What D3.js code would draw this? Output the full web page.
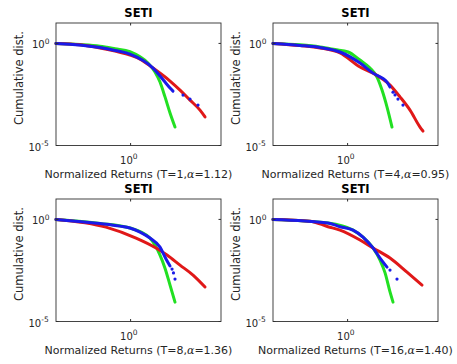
<!DOCTYPE html>
<html><head><meta charset="utf-8">
<script src="https://cdn.jsdelivr.net/npm/d3@7"></script>
<style>body{margin:0;background:#fff}svg{display:block}</style></head>
<body><svg id="c" width="457" height="364"></svg>
<script>
// ---- data ----
const panelTitles = ["SETI","SETI","SETI","SETI"];
const panelT = [1, 4, 8, 16];
const panelAlpha = ["1.12", "0.95", "1.36", "1.40"];
const xTicks = [1];
const yTicks = [1e-5, 1];

// Panel 1 (T=1)
const g1x = [0.01,0.044,0.151,0.382,0.96,1.79,2.92,4.51,6.14,8.36,11.4,15.5];
const g1y = [1.0,0.88,0.73,0.55,0.40,0.22,0.11,0.040,0.0128,0.0024,3.9e-4,8e-5];
const r1x = [0.01,0.044,0.151,0.382,0.96,1.79,3.99,11.4,21.1,39.1,72.6,98.9];
const r1y = [1.0,0.86,0.60,0.42,0.27,0.17,0.062,0.0144,0.0052,0.00168,5.4e-4,2.5e-4];
const b1x = [0.01,0.151,0.382,0.96,3.99,8.36,11.4,13.7];
const b1y = [1.0,0.63,0.45,0.30,0.062,0.0128,0.0065,0.0046];
const b1dx = [25.4,39.1,64.1];
const b1dy = [0.00296,0.00188,9.5e-4];

// Panel 2 (T=4)
const g2x = [0.01,0.053,0.182,0.459,1.03,2.15,3.99,6.14,8.36,11.4,15.5];
const g2y = [1.0,0.85,0.67,0.50,0.38,0.153,0.062,0.0225,0.0052,7.6e-4,8e-5];
const r2x = [0.01,0.053,0.182,0.625,2.15,4.80,13.7,25.4,47.1,87.3,105];
const r2y = [1.0,0.78,0.60,0.34,0.070,0.035,0.0091,0.0024,5.4e-4,8e-5,5.1e-5];
const b2x = [0.01,0.053,0.182,0.625,2.15,4.80,11.4,13.7];
const b2y = [1.0,0.80,0.63,0.38,0.109,0.035,0.0128,0.0073];
const b2dx = [16.5,18.7,22.4,30.5];
const b2dy = [0.0041,0.0030,0.00188,9.5e-4];

// Panel 3 (T=8)
const g3x = [0.01,0.151,0.96,3.31,4.51,6.14,8.36,11.4,15.5];
const g3y = [1,0.64,0.38,0.122,0.056,0.018,0.0041,6.1e-4,8.9e-5];
const r3x = [0.01,0.219,1.40,4.80,9.46,21.1,47.1,98.9];
const r3y = [1,0.42,0.122,0.040,0.018,0.0058,0.00188,4.9e-4];
const b3x = [0.01,0.151,0.52,0.96,1.79,3.31,6.14,8.89,11.4];
const b3y = [1,0.63,0.47,0.38,0.24,0.122,0.044,0.0115,0.0052];
const b3dx = [12.9,14.1,15.5];
const b3dy = [0.0037,0.0024,0.0012];

// Panel 4 (T=16)
const g4x = [0.01,0.298,1.40,2.59,4.80,7.40,10.1,13.7,16.5];
const g4y = [1,0.67,0.30,0.137,0.040,0.0102,0.0024,2.8e-4,8.9e-5];
const r4x = [0.01,0.098,0.298,0.625,2.15,4.80,13.7,39.1,98.9];
const r4y = [1,0.82,0.44,0.30,0.098,0.040,0.0128,0.0026,6.1e-4];
const b4x = [0.01,0.298,0.625,1.40,2.59,4.80,7.40,11.4];
const b4y = [1,0.67,0.44,0.30,0.137,0.040,0.0128,0.0046];
const b4dx = [13.7,21.1];
const b4dy = [0.0033,0.0012];

const gaussX = [g1x,g2x,g3x,g4x], gaussY = [g1y,g2y,g3y,g4y];
const fitX = [r1x,r2x,r3x,r4x], fitY = [r1y,r2y,r3y,r4y];
const empX = [b1x,b2x,b3x,b4x], empY = [b1y,b2y,b3y,b4y];
const tailX = [b1dx,b2dx,b3dx,b4dx], tailY = [b1dy,b2dy,b3dy,b4dy];

// ---- layout ----
const W = 165, H = 122.5;
const origins = [[56,23],[273,23],[56,199],[273,199]];
const FONT = "'DejaVu Sans', sans-serif";
const cGreen = "#22e022", cRed = "#e01818", cBlue = "#1a1ae8";

const x = d3.scaleLog().domain([0.01, 265]).range([0, W]);
const y = d3.scaleLog().domain([1e-5, 10]).range([H, 0]);
const line = d3.line().x(d => x(d[0])).y(d => y(d[1])).curve(d3.curveMonotoneX);

const svg = d3.select("#c");

origins.forEach((o, i) => {
  const g = svg.append("g").attr("transform", `translate(${o[0]},${o[1]})`);

  const series = [
    [gaussX[i], gaussY[i], cGreen],
    [fitX[i], fitY[i], cRed],
    [empX[i], empY[i], cBlue]
  ];
  series.forEach(([xs, ys, col]) => {
    g.append("path").datum(xs.map((v, k) => [v, ys[k]]))
      .attr("d", line).attr("fill", "none").attr("stroke", col)
      .attr("stroke-width", 3).attr("stroke-linecap", "round");
  });
  g.selectAll("circle.tail").data(tailX[i].map((v, k) => [v, tailY[i][k]]))
    .join("circle").attr("class", "tail")
    .attr("cx", d => x(d[0])).attr("cy", d => y(d[1])).attr("r", 1.6).attr("fill", cBlue);

  // frame
  g.append("rect").attr("width", W).attr("height", H)
    .attr("fill", "none").attr("stroke", "#303030").attr("stroke-width", 0.9);

  // ticks (inward, mirrored)
  const tl = 2.5;
  xTicks.forEach(t => {
    g.append("line").attr("x1", x(t)).attr("x2", x(t)).attr("y1", H).attr("y2", H - tl).attr("stroke", "#303030");
    g.append("line").attr("x1", x(t)).attr("x2", x(t)).attr("y1", 0).attr("y2", tl).attr("stroke", "#303030");
    const tx = g.append("text").attr("x", x(t) - 10.5).attr("y", H + 18)
      .attr("font-family", FONT).attr("font-size", 10).attr("fill", "#262626");
    tx.append("tspan").text("10");
    tx.append("tspan").attr("dy", -4.5).attr("font-size", 7.5).text(String(Math.round(Math.log10(t))));
  });
  yTicks.forEach(t => {
    g.append("line").attr("x1", 0).attr("x2", tl).attr("y1", y(t)).attr("y2", y(t)).attr("stroke", "#303030");
    g.append("line").attr("x1", W).attr("x2", W - tl).attr("y1", y(t)).attr("y2", y(t)).attr("stroke", "#303030");
    const e = Math.round(Math.log10(t));
    const ty = g.append("text").attr("x", e === 0 ? -24 : -27.5).attr("y", y(t) + 5)
      .attr("font-family", FONT).attr("font-size", 10).attr("fill", "#262626");
    ty.append("tspan").text("10");
    ty.append("tspan").attr("dy", -4.5).attr("font-size", 7.5).text(e === 0 ? "0" : "-" + Math.abs(e));
  });

  // title
  g.append("text").attr("x", W / 2).attr("y", -6.5).attr("text-anchor", "middle")
    .attr("font-family", FONT).attr("font-weight", "bold").attr("font-size", 11.5)
    .attr("fill", "#000").text(panelTitles[i]);

  // y label
  g.append("text").attr("transform", `translate(-33,${55}) rotate(-90)`)
    .attr("text-anchor", "middle").attr("font-family", FONT).attr("font-size", 11.5)
    .attr("fill", "#262626").text("Cumulative dist.");

  // x label
  const xl = g.append("text").attr("x", W / 2).attr("y", 154.5).attr("text-anchor", "middle")
    .attr("font-family", FONT).attr("font-size", 11).attr("fill", "#262626");
  xl.append("tspan").text(`Normalized Returns (T=${panelT[i]},`);
  xl.append("tspan").attr("font-family", "'DejaVu Serif', serif").attr("font-style", "italic").text("\u03b1");
  xl.append("tspan").text(`=${panelAlpha[i]})`);
});
</script></body></html>
